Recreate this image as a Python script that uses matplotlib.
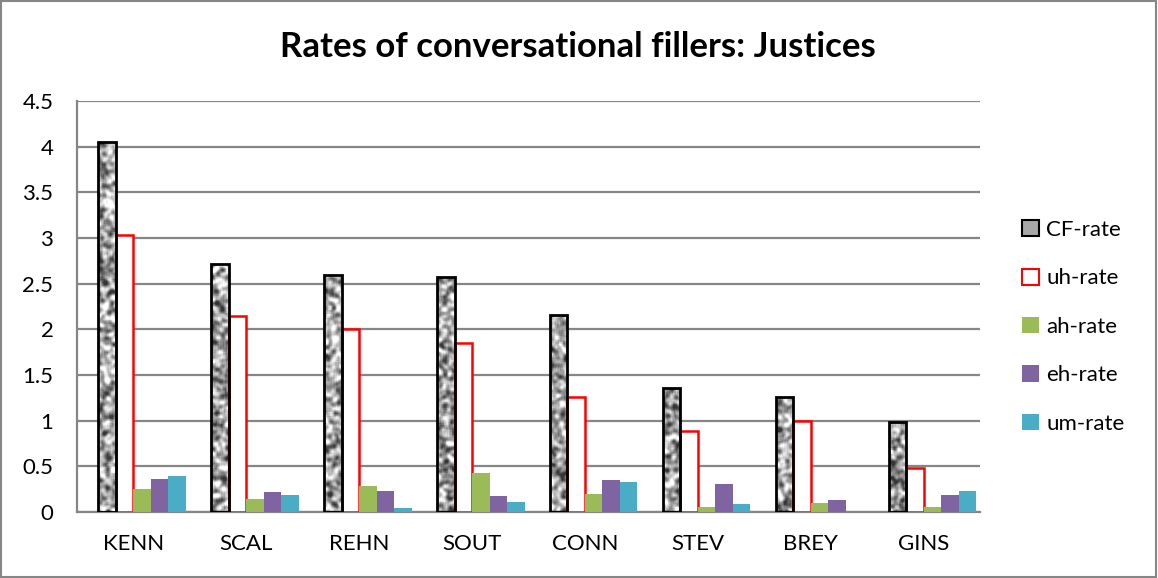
import numpy as np
import matplotlib
matplotlib.use('Agg')
import matplotlib.pyplot as plt
import matplotlib.patches as mpatches

# data
justices = ['KENN', 'SCAL', 'REHN', 'SOUT', 'CONN', 'STEV', 'BREY', 'GINS']
cf_rate = [4.05, 2.71, 2.59, 2.57, 2.16, 1.36, 1.26, 0.98]
uh_rate = [3.03, 2.15, 2.00, 1.85, 1.26, 0.89, 1.00, 0.48]
ah_rate = [0.25, 0.14, 0.29, 0.43, 0.20, 0.05, 0.10, 0.06]
eh_rate = [0.36, 0.22, 0.23, 0.18, 0.35, 0.31, 0.13, 0.19]
um_rate = [0.39, 0.19, 0.04, 0.11, 0.33, 0.085, 0.0, 0.23]

plt.rcParams['font.family'] = ['Lato', 'DejaVu Sans']

fig = plt.figure(figsize=(11.58, 5.78), dpi=100)
ax = fig.add_axes([77/1158, 1 - 512/578, (980-77)/1158, (512-101)/578])

x = np.arange(len(justices))
w = 0.155
off = -2*w

# CF bars: mottled gray texture clipped to the bars
cf_bars = ax.bar(x + off, cf_rate, w, align='edge', facecolor='none',
                 edgecolor='black', linewidth=2, zorder=4)
rng = np.random.default_rng(7)
k = np.ones(4) / 4
def smooth(a):
    a = np.apply_along_axis(lambda r: np.convolve(r, k, mode='same'), 0, a)
    a = np.apply_along_axis(lambda r: np.convolve(r, k, mode='same'), 1, a)
    return a
for b in cf_bars:
    noise = smooth(smooth(rng.random((420, 24))))[:, 3:-3]
    lo, hi = np.percentile(noise, [2, 98])
    noise = np.clip((noise - lo) / (hi - lo), 0, 1)
    im = ax.imshow(noise, cmap='gray', vmin=-0.25, vmax=0.95, aspect='auto',
                   extent=[b.get_x(), b.get_x() + b.get_width(), 0, 4.5],
                   zorder=3, interpolation='bilinear')
    im.set_clip_path(b)

ax.bar(x + off + w, uh_rate, w, align='edge', facecolor='white',
       edgecolor='#ff0000', linewidth=1.8, zorder=3)
ax.bar(x + off + 2*w, ah_rate, w, align='edge', color='#9bbb59', zorder=3)
ax.bar(x + off + 3*w, eh_rate, w, align='edge', color='#8064a2', zorder=3)
ax.bar(x + off + 4*w, um_rate, w, align='edge', color='#4bacc6', zorder=3)

ax.set_xlim(-0.5, len(justices) - 0.5)
ax.set_ylim(0, 4.5)
ax.set_yticks(np.arange(0, 4.51, 0.5))
ax.set_yticklabels(['0', '0.5', '1', '1.5', '2', '2.5', '3', '3.5', '4', '4.5'])
ax.set_xticks(x)
ax.set_xticklabels(justices)
ax.tick_params(axis='both', length=0, labelsize=16)
ax.tick_params(axis='x', pad=16)
ax.tick_params(axis='y', pad=17)
ax.yaxis.grid(True, color='#868686', linewidth=1.6)
ax.set_axisbelow(True)
for s in ['top', 'right']:
    ax.spines[s].set_visible(False)
for s in ['left', 'bottom']:
    ax.spines[s].set_color('#868686')
    ax.spines[s].set_linewidth(1.6)

fig.text(578/1158, 1 - 47/578, 'Rates of conversational fillers: Justices',
         ha='center', va='center', fontsize=25, fontweight='bold')

handles = [
    mpatches.Patch(facecolor='#a8a8a8', edgecolor='black', linewidth=1.5, label='CF-rate'),
    mpatches.Patch(facecolor='white', edgecolor='#ff0000', linewidth=1.5, label='uh-rate'),
    mpatches.Patch(facecolor='#9bbb59', label='ah-rate'),
    mpatches.Patch(facecolor='#8064a2', label='eh-rate'),
    mpatches.Patch(facecolor='#4bacc6', label='um-rate'),
]
fig.legend(handles=handles, loc='upper left', bbox_to_anchor=(1002/1158, 1 - 200/578),
           frameon=False, fontsize=16, handlelength=0.75, handleheight=0.75,
           handletextpad=0.35, labelspacing=1.28)

# outer border of the chart area
fig.add_artist(mpatches.Rectangle((0.001, 0.002), 0.997, 0.996, transform=fig.transFigure,
                                  fill=False, edgecolor='#868686', linewidth=1.5))

fig.savefig('out.png', dpi=100)
